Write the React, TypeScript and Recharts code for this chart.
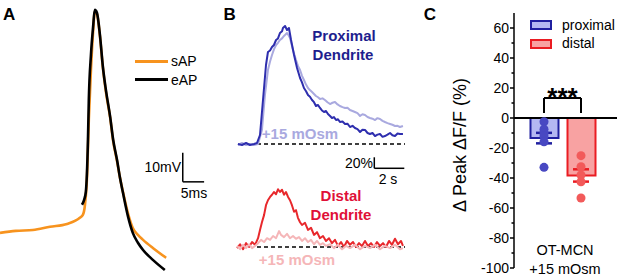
import React from 'react';
import { LineChart, Line, XAxis, YAxis, ReferenceLine, ComposedChart, Bar, Cell, Scatter, ErrorBar } from 'recharts';

const FONT = '"Liberation Sans", Arial, Helvetica, sans-serif';

// ---- Panel A: action potentials (t in ms, v in mV)
const sAPPoints: [number, number][] = [
  [0, -60], [3.7, -59.3], [7.7, -59.0], [11.7, -57.9], [15.7, -56.9], [18.7, -54.8], [19.4, -53.8],
  [19.9, -50.3], [20.4, -40.0], [20.8, -21.0], [21.3, -3.8], [21.8, 9.3], [22.2, 16.2], [22.7, 15.5],
  [23.4, 7.9], [24.1, -3.1], [24.8, -11.4], [25.8, -20.3], [26.5, -28.3], [27.4, -35.2], [28.1, -41.0],
  [28.8, -45.9], [30.0, -53.4], [31.1, -58.3], [32.3, -60.7], [33.5, -62.4], [35.8, -65.2], [38.9, -68.6],
];
const eAPPoints: [number, number][] = [
  [19.2, -50.3], [19.7, -48.6], [20.1, -45.9], [20.6, -27.9], [20.8, -14.1], [21.3, 1.4], [21.8, 11.0],
  [22.2, 16.9], [22.7, 15.9], [23.4, 8.3], [24.1, -2.8], [24.8, -10.7], [25.8, -20.0], [26.5, -27.9],
  [27.4, -34.8], [28.1, -41.0], [28.8, -46.2], [30.0, -54.5], [31.1, -60.0], [32.3, -63.4], [33.5, -65.9],
  [35.8, -69.3], [38.6, -72.8],
];

// ---- Panel B: Ca2+ transients (t in s, dF/F in %)
const proxCtrlPts: [number, number][] = [
  [0.53, 0], [0.8, -1.8], [1.07, 1.8], [1.33, -1.8], [1.6, 0], [1.8, 1.8], [2.0, 16.4], [2.2, 80], [2.4, 143.6],
  [2.53, 167.3], [2.67, 170], [2.8, 176.4], [2.93, 180], [3.07, 189.1], [3.2, 192], [3.33, 201.8], [3.47, 205],
  [3.53, 210.9], [3.67, 214.5], [3.8, 207.3], [3.93, 210.9], [4.07, 189.1], [4.27, 161.8], [4.47, 138.2],
  [4.67, 120], [4.8, 112], [4.93, 101.8], [5.07, 96], [5.2, 89.1], [5.33, 86], [5.47, 80], [5.6, 76],
  [5.73, 69.1], [5.87, 71], [6.0, 65.5], [6.13, 61], [6.27, 58.2], [6.4, 60], [6.53, 54.5], [6.67, 51],
  [6.8, 47.3], [6.93, 49], [7.07, 43.6], [7.2, 45], [7.33, 40], [7.5, 41], [7.67, 36.4], [7.83, 37],
  [8.0, 30.9], [8.17, 33], [8.33, 29.1], [8.5, 27], [8.67, 21.8], [8.83, 26], [9.0, 25.5], [9.17, 20],
  [9.33, 18.2], [9.5, 20], [9.67, 14.5], [9.83, 17], [10.0, 18.2], [10.17, 13], [10.33, 14.5], [10.5, 17],
  [10.67, 20], [10.83, 16], [11.0, 14.5], [11.17, 19], [11.33, 18.2], [11.53, 18.2],
];
const proxOsmPts: [number, number][] = [
  [0.53, -1.8], [0.8, 1.8], [1.07, -1.8], [1.33, 0], [1.6, -1.8], [1.87, 0], [2.13, 25.5], [2.33, 89.1],
  [2.53, 134.5], [2.67, 150], [2.8, 161.8], [2.93, 172], [3.07, 180], [3.2, 184], [3.33, 189.1], [3.47, 192],
  [3.6, 196.4], [3.7, 199], [3.8, 201.8], [3.9, 198], [4.0, 192.7], [4.2, 170.9], [4.4, 152.7], [4.53, 142],
  [4.67, 134.5], [4.8, 124], [4.93, 116.4], [5.07, 108], [5.2, 101.8], [5.33, 98], [5.47, 94.5], [5.6, 91],
  [5.73, 87.3], [5.87, 85], [6.0, 81.8], [6.17, 83], [6.33, 80], [6.5, 76], [6.67, 72.7], [6.83, 75],
  [7.0, 76.4], [7.17, 72], [7.33, 69.1], [7.5, 67], [7.67, 65.5], [7.83, 66], [8.0, 61.8], [8.17, 60],
  [8.33, 58.2], [8.5, 56], [8.67, 50.9], [8.83, 54], [9.0, 52.7], [9.17, 49], [9.33, 47.3], [9.5, 46],
  [9.67, 43.6], [9.83, 47], [10.0, 45.5], [10.17, 42], [10.33, 40], [10.5, 38], [10.67, 36.4], [10.83, 35],
  [11.0, 32.7], [11.17, 33], [11.33, 30.9], [11.53, 32.7],
];
const distCtrlPts: [number, number][] = [
  [0.47, -2], [0.67, 5], [0.87, -4], [1.07, 7], [1.27, 0], [1.47, 9], [1.67, 4], [1.87, 16], [2.0, 31],
  [2.13, 45], [2.27, 58], [2.4, 76], [2.53, 85], [2.67, 91], [2.8, 95], [2.93, 100], [3.07, 96], [3.2, 105],
  [3.33, 100], [3.47, 104], [3.6, 95], [3.73, 100], [3.87, 91], [4.0, 85], [4.13, 76], [4.27, 64], [4.4, 67],
  [4.53, 53], [4.67, 45], [4.8, 40], [5.0, 44], [5.2, 31], [5.4, 35], [5.6, 22], [5.8, 27], [6.0, 16],
  [6.2, 20], [6.4, 11], [6.6, 16], [6.8, 7], [7.0, 13], [7.2, 2], [7.4, 9], [7.6, 0], [7.8, 11], [8.0, 4],
  [8.2, 9], [8.4, 0], [8.6, 7], [8.8, 2], [9.0, 11], [9.2, 2], [9.4, 7], [9.6, 0], [9.8, 9], [10.0, 2],
  [10.2, 7], [10.4, 0], [10.6, 11], [10.8, 4], [11.0, 15], [11.2, 5], [11.4, 11], [11.53, 2],
];
const distOsmPts: [number, number][] = [
  [0.47, 2], [0.67, -4], [0.87, 4], [1.07, -2], [1.27, 5], [1.47, -2], [1.67, 2], [1.87, 7], [2.07, 13],
  [2.27, 9], [2.47, 16], [2.67, 13], [2.87, 20], [3.07, 16], [3.27, 29], [3.4, 22], [3.6, 18], [3.8, 24],
  [4.0, 16], [4.2, 20], [4.4, 15], [4.6, 18], [4.8, 11], [5.0, 16], [5.2, 9], [5.4, 13], [5.6, 5], [5.8, 11],
  [6.0, 4], [6.2, 7], [6.4, 2], [6.67, 5], [6.93, -2], [7.2, 4], [7.47, -4], [7.73, 2], [8.0, -2], [8.33, 4],
  [8.67, -4], [9.0, 2], [9.33, -2], [9.67, 4], [10.0, -4], [10.33, 2], [10.67, -2], [11.0, 4], [11.33, -4],
  [11.53, -2],
];

// ---- Panel C: peak change (%)
const groups = ['proximal', 'distal'];
const groupMeans = [-13.4, -38.3];
const groupSems = [3.5, 4.1];
const proximalDots = [-2.5, -7.5, -9.8, -12, -15.8, -32.9];
const distalDots = [-25.1, -32.5, -38, -42.5, -53.3];
const yTicksC = [-100, -90, -80, -70, -60, -50, -40, -30, -20, -10, 0, 10, 20, 30, 40, 50, 60];

const toTV = (a: [number, number][]) => a.map(([t, v]) => ({ t, v }));
const sAP = toTV(sAPPoints);
const eAP = toTV(eAPPoints);
const proxCtrl = toTV(proxCtrlPts);
const proxOsm = toTV(proxOsmPts);
const distCtrl = toTV(distCtrlPts);
const distOsm = toTV(distOsmPts);

const barRows = groups.map((cat, i) => ({ cat, mean: groupMeans[i], sem: groupSems[i] }));
const proxDotRows = proximalDots.map((v) => ({ cat: 'proximal', v }));
const distDotRows = distalDots.map((v) => ({ cat: 'distal', v }));

const COLORS = {
  orange: '#f7931e',
  dark: '#2e2eae',
  lav: '#a9a9df',
  red: '#e8282c',
  pink: '#f5b6b8',
  proxText: '#1e1e8e',
  distText: '#e01038',
  proxFill: '#b4b8f2',
  proxStroke: '#2020a0',
  distFill: '#f8a2a2',
  distStroke: '#ea1c22',
  proxDot: '#4848c2',
  distDot: '#f25a5a',
};

type LP = { x: number; y: number; children: React.ReactNode; size?: number; bold?: boolean; color?: string; anchor?: 'start' | 'middle' | 'end'; rotate?: number };
const Txt = ({ x, y, children, size = 14, bold = false, color = '#000', anchor = 'middle', rotate }: LP) => {
  const tx = anchor === 'middle' ? '-50%' : anchor === 'end' ? '-100%' : '0';
  return (
    <div
      style={{
        position: 'absolute', left: x, top: y, fontSize: size, fontWeight: bold ? 700 : 400, color,
        lineHeight: 1, whiteSpace: 'nowrap', fontFamily: FONT,
        transform: `translate(${tx}, -50%)${rotate ? ` rotate(${rotate}deg)` : ''}`,
        transformOrigin: rotate ? '50% 50%' : undefined,
      }}
    >
      {children}
    </div>
  );
};

const CTick = (props: any) => {
  const { x, y, payload } = props;
  const v = payload.value;
  const major = v % 20 === 0;
  return (
    <g>
      <line x1={x - (major ? 4 : 2.5)} x2={x} y1={y} y2={y} stroke="#000" strokeWidth={1.5} />
      {major && (
        <text x={x - 5} y={y} dy="0.36em" textAnchor="end" fontSize={14} fill="#000" fontFamily={FONT}>
          {v}
        </text>
      )}
    </g>
  );
};

const noMargin = { top: 0, right: 0, bottom: 0, left: 0 };
const lineCommon = { dot: false, activeDot: false, isAnimationActive: false, strokeLinejoin: 'round' as const };

export default function App() {
  return (
    <div style={{ position: 'absolute', left: 0, top: 0, width: 617, height: 279, overflow: 'hidden', background: '#fff', fontFamily: FONT }}>
      {/* Panel A */}
      <div style={{ position: 'absolute', left: 0, top: 0 }}>
        <LineChart width={215} height={279} margin={noMargin}>
          <XAxis type="number" dataKey="t" domain={[0, 50.35]} hide allowDataOverflow />
          <YAxis type="number" domain={[-75.9, 20.3]} hide allowDataOverflow />
          <Line data={sAP} dataKey="v" type="monotone" stroke={COLORS.orange} strokeWidth={2.6} {...lineCommon} />
          <Line data={eAP} dataKey="v" type="monotone" stroke="#000" strokeWidth={2.6} {...lineCommon} />
          <ReferenceLine segment={[{ x: 42.8, y: -42.4 }, { x: 42.8, y: -32.4 }]} stroke="#000" strokeWidth={1.5} />
          <ReferenceLine segment={[{ x: 42.8, y: -42.4 }, { x: 47.8, y: -42.4 }]} stroke="#000" strokeWidth={1.5} />
        </LineChart>
      </div>

      {/* Panel B top */}
      <div style={{ position: 'absolute', left: 230, top: 0 }}>
        <LineChart width={190} height={150} margin={noMargin}>
          <XAxis type="number" dataKey="t" domain={[0, 12.667]} hide allowDataOverflow />
          <YAxis type="number" domain={[-10.91, 261.82]} hide allowDataOverflow />
          <ReferenceLine segment={[{ x: 1.8, y: 0 }, { x: 11.67, y: 0 }]} stroke="#000" strokeWidth={1.6} strokeDasharray="4 3" />
          <Line data={proxOsm} dataKey="v" type="linear" stroke={COLORS.lav} strokeWidth={2} {...lineCommon} />
          <Line data={proxCtrl} dataKey="v" type="linear" stroke={COLORS.dark} strokeWidth={2} {...lineCommon} />
        </LineChart>
      </div>

      {/* Panel B bottom */}
      <div style={{ position: 'absolute', left: 230, top: 150 }}>
        <LineChart width={190} height={129} margin={noMargin}>
          <XAxis type="number" dataKey="t" domain={[0, 12.667]} hide allowDataOverflow />
          <YAxis type="number" domain={[-58.18, 176.36]} hide allowDataOverflow />
          <ReferenceLine segment={[{ x: 1.8, y: 0 }, { x: 11.67, y: 0 }]} stroke="#000" strokeWidth={1.6} strokeDasharray="4 3" />
          <Line data={distCtrl} dataKey="v" type="linear" stroke={COLORS.red} strokeWidth={2} {...lineCommon} />
          <Line data={distOsm} dataKey="v" type="linear" stroke={COLORS.pink} strokeWidth={2} {...lineCommon} />
          <ReferenceLine segment={[{ x: 9.62, y: 143.1 }, { x: 9.62, y: 163.1 }]} stroke="#000" strokeWidth={1.5} />
          <ReferenceLine segment={[{ x: 9.62, y: 143.1 }, { x: 11.62, y: 143.1 }]} stroke="#000" strokeWidth={1.5} />
        </LineChart>
      </div>

      {/* Panel C */}
      <div style={{ position: 'absolute', left: 464, top: 0 }}>
        <ComposedChart width={153} height={279} data={barRows} margin={{ top: 13, right: 0, bottom: 11, left: 0 }}>
          <XAxis dataKey="cat" type="category" hide allowDuplicatedCategory={false} padding={{ left: 11.5, right: 17.5 }} />
          <YAxis
            type="number"
            domain={[-100, 70]}
            ticks={yTicksC}
            interval={0}
            width={50}
            tickSize={0}
            tickMargin={0}
            tickLine={false}
            axisLine={{ stroke: '#000', strokeWidth: 1.5 }}
            tick={<CTick />}
            allowDataOverflow
          />
          <Bar dataKey="mean" barSize={28} isAnimationActive={false}>
            {barRows.map((r, i) => (
              <Cell key={r.cat} fill={i === 0 ? COLORS.proxFill : COLORS.distFill} stroke={i === 0 ? COLORS.proxStroke : COLORS.distStroke} strokeWidth={2} />
            ))}
          </Bar>
          <ReferenceLine y={0} stroke="#000" strokeWidth={2} />
          <Scatter data={proxDotRows} dataKey="v" isAnimationActive={false}
            shape={(p: any) => <circle cx={p.cx} cy={p.cy} r={4.5} fill={COLORS.proxDot} />} />
          <Scatter data={distDotRows} dataKey="v" isAnimationActive={false}
            shape={(p: any) => <circle cx={p.cx} cy={p.cy} r={4.5} fill={COLORS.distDot} />} />
          <Scatter data={[barRows[0]]} dataKey="mean" isAnimationActive={false} shape={() => <g />}>
            <ErrorBar dataKey="sem" direction="y" width={8} stroke={COLORS.proxStroke} strokeWidth={2.5} isAnimationActive={false} />
          </Scatter>
          <Scatter data={[barRows[1]]} dataKey="mean" isAnimationActive={false} shape={() => <g />}>
            <ErrorBar dataKey="sem" direction="y" width={8} stroke={COLORS.distStroke} strokeWidth={2.5} isAnimationActive={false} />
          </Scatter>
          <ReferenceLine segment={[{ x: 'proximal', y: 3.3 }, { x: 'proximal', y: 13.3 }]} stroke="#000" strokeWidth={2} />
          <ReferenceLine segment={[{ x: 'proximal', y: 13.3 }, { x: 'distal', y: 13.3 }]} stroke="#000" strokeWidth={2} />
          <ReferenceLine segment={[{ x: 'distal', y: 13.3 }, { x: 'distal', y: 3.3 }]} stroke="#000" strokeWidth={2} />
        </ComposedChart>
      </div>

      {/* Overlay texts & legends */}
      <Txt x={9.2} y={14} size={17} bold>A</Txt>
      <Txt x={229.7} y={14} size={17} bold>B</Txt>
      <Txt x={430} y={14} size={17} bold>C</Txt>

      <div style={{ position: 'absolute', left: 135, top: 60, width: 33, height: 2.6, background: COLORS.orange }} />
      <div style={{ position: 'absolute', left: 135, top: 78, width: 33, height: 2.6, background: '#000' }} />
      <Txt x={171} y={61} anchor="start">sAP</Txt>
      <Txt x={171} y={80} anchor="start">eAP</Txt>
      <Txt x={181} y={166.5} anchor="end">10mV</Txt>
      <Txt x={194} y={192.5}>5ms</Txt>

      <Txt x={344} y={35} size={15} bold color={COLORS.proxText}>Proximal</Txt>
      <Txt x={343} y={54} size={15} bold color={COLORS.proxText}>Dendrite</Txt>
      <Txt x={300} y={133} size={15} bold color={COLORS.lav}>+15 mOsm</Txt>
      <Txt x={373} y={163} anchor="end">20%</Txt>
      <Txt x={388} y={179}>2 s</Txt>
      <Txt x={341} y={195} size={15} bold color={COLORS.distText}>Distal</Txt>
      <Txt x={341} y={214} size={15} bold color={COLORS.distText}>Dendrite</Txt>
      <Txt x={297} y={259} size={15} bold color={COLORS.pink}>+15 mOsm</Txt>

      <div style={{ position: 'absolute', left: 530, top: 20, width: 22, height: 10, boxSizing: 'border-box', background: COLORS.proxFill, border: `2px solid ${COLORS.proxStroke}` }} />
      <div style={{ position: 'absolute', left: 530, top: 39, width: 22, height: 10, boxSizing: 'border-box', background: COLORS.distFill, border: `2px solid ${COLORS.distStroke}` }} />
      <Txt x={562} y={25} anchor="start">proximal</Txt>
      <Txt x={562} y={43} anchor="start">distal</Txt>
      <Txt x={562.5} y={97} size={26} bold>***</Txt>
      <Txt x={565} y={250} size={14.5}>OT-MCN</Txt>
      <Txt x={565} y={269} size={14.5}>+15 mOsm</Txt>
      <Txt x={460} y={145} size={18} rotate={-90}>Δ Peak ΔF/F (%)</Txt>
    </div>
  );
}
